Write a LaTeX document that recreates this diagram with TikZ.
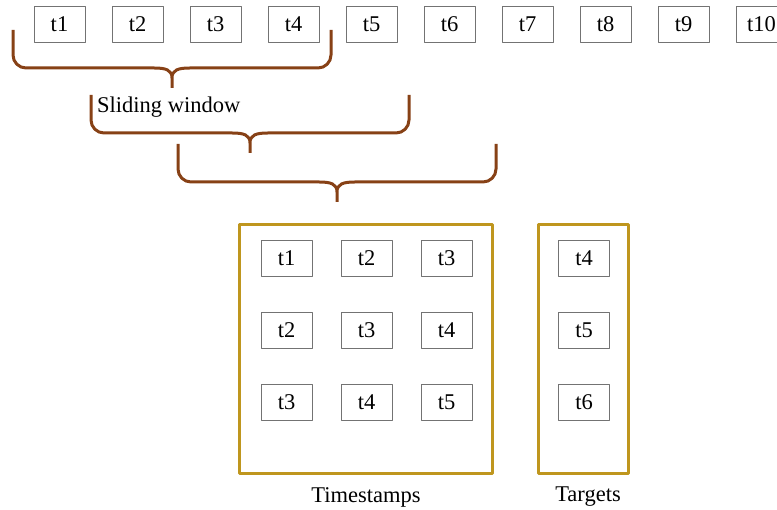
\documentclass[tikz,border=0pt]{standalone}
\usepackage{fontspec}
\setmainfont{Liberation Serif}
\usetikzlibrary{positioning}
\definecolor{swbrown}{RGB}{135,65,22}
\definecolor{swgold}{RGB}{191,150,30}

\tikzset{
  tstep/.style={draw=gray!90!black,line width=0.9pt,minimum width=51pt,
    minimum height=36pt,inner sep=0pt},
  group/.style={draw=swgold,line width=3.5pt,inner sep=0pt},
  brace line/.style={draw=swbrown,line width=3pt},
  wbrace/.pic={
    \draw[brace line] (0,0) -- (0,-25) arc[start angle=180,end angle=270,radius=13pt]
      -- (141,-38) .. controls (153,-38) and (159,-40) .. (159,-48)
      .. controls (159,-40) and (165,-38) .. (177,-38) -- (305,-38)
      arc[start angle=270,end angle=360,radius=13pt] -- (318,0)
      (159,-48) -- (159,-58);
  }
}

\begin{document}
\begin{tikzpicture}[x=1pt,y=1pt,node distance=78pt,on grid,
      font=\fontsize{22.5}{27}\selectfont,line join=round]
  \useasboundingbox (0,0) rectangle (777,510);
			% time steps
			\node[tstep] (t1) at (59.5,486) {t1};
			\node[tstep] (t2) [right=of t1] {t2};
			\node[tstep] (t3) [right=of t2] {t3};
			\node[tstep] (t4) [right=of t3] {t4};
			\node[tstep] (t5) [right=of t4] {t5};
			\node[tstep] (t6) [right=of t5] {t6};
			\node[tstep] (t7) [right=of t6] {t7};
			\node[tstep] (t8) [right=of t7] {t8};
			\node[tstep] (t9) [right=of t8] {t9};
			\node[tstep] (t10) [right=of t9] {t10};
			% windows
			\pic at (13,480) {wbrace};
			\pic at (91,415) {wbrace};
			\pic at (178,366) {wbrace};
			\node[anchor=west,inner sep=0pt] (swlabel) at (97,403) {Sliding window};
			% samples
			\node[group,minimum width=253pt,minimum height=249pt] (stamps) at (366,161) {};
			\node[group,minimum width=90pt,minimum height=249pt] (targets) at (583.5,161) {};
			\node[tstep] (s11) at (286.5,252) {t1};
			\node[tstep] (s12) [right=80pt of s11] {t2};
			\node[tstep] (s13) [right=80pt of s12] {t3};
			\node[tstep] (s21) [below=72pt of s11] {t2};
			\node[tstep] (s22) [right=80pt of s21] {t3};
			\node[tstep] (s23) [right=80pt of s22] {t4};
			\node[tstep] (s31) [below=72pt of s21] {t3};
			\node[tstep] (s32) [right=80pt of s31] {t4};
			\node[tstep] (s33) [right=80pt of s32] {t5};
			\node[tstep] (y1) at (584,252) {t4};
			\node[tstep] (y2) [below=72pt of y1] {t5};
			\node[tstep] (y3) [below=72pt of y2] {t6};
			\node (stamplabel) at (366,13) {Timestamps};
			\node (targetlabel) at (588,13) {Targets};
		\end{tikzpicture}
\end{document}
